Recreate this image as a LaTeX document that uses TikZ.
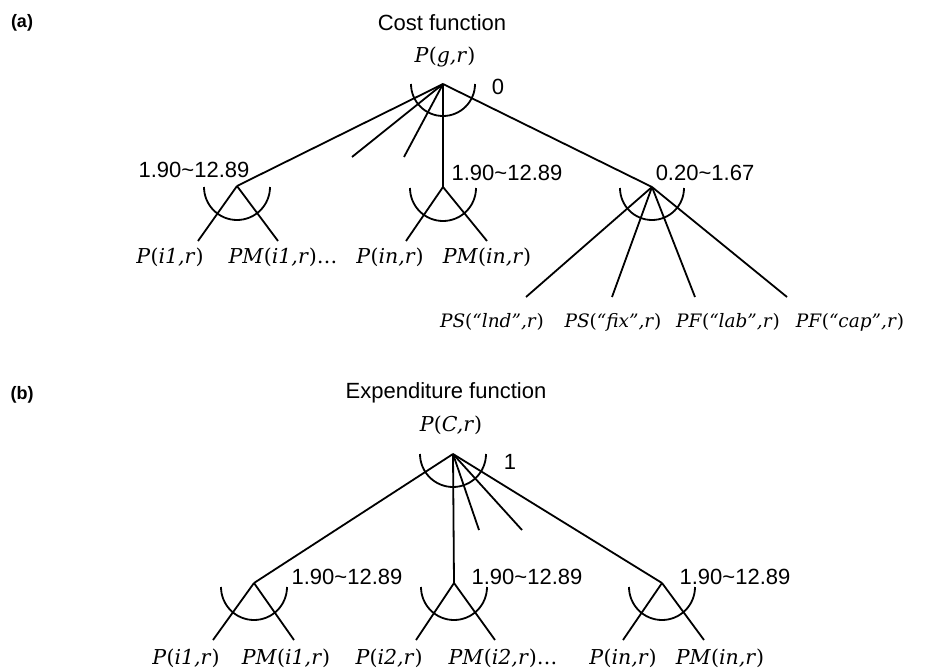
\documentclass[tikz,border=0pt]{standalone}
\usepackage{fontspec}
\setsansfont{Liberation Sans}
\newfontfamily\leaffont{DejaVu Serif}
% price term: italic symbol and arguments, upright parentheses
\newcommand{\pterm}[2]{\textit{#1}(\textit{#2})}
\newcommand{\cupat}[3]{\draw[cup] ([shift={(-#2pt,-#3pt)}]#1) arc[start angle=180,end angle=360,radius=#2pt];}
\tikzset{
  edge/.style={line width=1.8pt},
  cup/.style={line width=1.8pt},
  lbl/.style={font=\fontsize{22}{24}\selectfont\sffamily, inner sep=0pt},
  tag/.style={font=\fontsize{18}{20}\selectfont\sffamily\bfseries, inner sep=0pt},
  leaf/.style={font=\fontsize{20.5}{24}\selectfont\leaffont, inner sep=0pt},
  factor/.style={font=\fontsize{18.5}{22}\selectfont\leaffont, inner sep=0pt},
}
\begin{document}
\begin{tikzpicture}[x=1pt,y=-1pt]
\useasboundingbox (0,0) rectangle (926,669);

% ---------- (a) cost function ----------
\node[tag] (tagA) at (22,23) {(a)};
\node[lbl] (titleA) at (442,23) {Cost function};
\node[leaf] (rootA) at (445,57) {\pterm{P}{g,r}};
\coordinate (a0) at (443,84);
\coordinate (a1) at (237,186);
\coordinate (a2) at (443,187);
\coordinate (a3) at (652,187);
\coordinate (as1) at (352,157);
\coordinate (as2) at (404,157);
\draw[edge] (a0) -- (a1);
\draw[edge] (a0) -- (as1);
\draw[edge] (a0) -- (as2);
\draw[edge] (a0) -- (a2);
\draw[edge] (a0) -- (a3);
\cupat{a0}{32}{0}
\node[lbl] (wA0) at (498,87) {0};
\node[lbl] (wA1) at (194,170) {1.90\textasciitilde 12.89};
\node[lbl] (wA2) at (507,173) {1.90\textasciitilde 12.89};
\node[lbl] (wA3) at (705,173) {0.20\textasciitilde 1.67};

% first input nest
\coordinate (a1l) at (198,241);
\coordinate (a1r) at (278,241);
\draw[edge] (a1) -- (a1l);
\draw[edge] (a1) -- (a1r);
\cupat{a1}{33}{1}
\node[leaf] (pa1) at (170,257) {\pterm{P}{i1,r}};
\node[leaf] (pma1) at (283,257) {\pterm{PM}{i1,r}…};

% n-th input nest
\coordinate (a2l) at (406,241);
\coordinate (a2r) at (487,241);
\draw[edge] (a2) -- (a2l);
\draw[edge] (a2) -- (a2r);
\cupat{a2}{33}{1}
\node[leaf] (pan) at (390,257) {\pterm{P}{in,r}};
\node[leaf] (pman) at (487,257) {\pterm{PM}{in,r}};

% factor nest
\coordinate (a3a) at (526,297);
\coordinate (a3b) at (612,297);
\coordinate (a3c) at (695,297);
\coordinate (a3d) at (787,297);
\draw[edge] (a3) -- (a3a);
\draw[edge] (a3) -- (a3b);
\draw[edge] (a3) -- (a3c);
\draw[edge] (a3) -- (a3d);
\cupat{a3}{32}{1}
\node[factor] (fl) at (492,322) {\pterm{PS}{“lnd”,r}};
\node[factor] (ff) at (613,322) {\pterm{PS}{“fix”,r}};
\node[factor] (fb) at (728,322) {\pterm{PF}{“lab”,r}};
\node[factor] (fc) at (850,322) {\pterm{PF}{“cap”,r}};

% ---------- (b) expenditure function ----------
\node[tag] (tagB) at (22,395) {(b)};
\node[lbl] (titleB) at (446,393) {Expenditure function};
\node[leaf] (rootB) at (451,425) {\pterm{P}{C,r}};
\coordinate (b0) at (453,454);
\coordinate (b1) at (254,583);
\coordinate (b2) at (454,583);
\coordinate (b3) at (662,583);
\coordinate (bs1) at (479,530);
\coordinate (bs2) at (522,530);
\draw[edge] (b0) -- (b1);
\draw[edge] (b0) -- (b2);
\draw[edge] (b0) -- (bs1);
\draw[edge] (b0) -- (bs2);
\draw[edge] (b0) -- (b3);
\cupat{b0}{33}{0}
\node[lbl] (wB0) at (510,462) {1};
\node[lbl] (wB1) at (347,577) {1.90\textasciitilde 12.89};
\node[lbl] (wB2) at (527,577) {1.90\textasciitilde 12.89};
\node[lbl] (wB3) at (735,577) {1.90\textasciitilde 12.89};

\coordinate (b1l) at (213,640);
\coordinate (b1r) at (294,640);
\coordinate (b2l) at (416,640);
\coordinate (b2r) at (495,640);
\coordinate (b3l) at (623,640);
\coordinate (b3r) at (704,640);
\draw[edge] (b1) -- (b1l);
\draw[edge] (b1) -- (b1r);
\draw[edge] (b2) -- (b2l);
\draw[edge] (b2) -- (b2r);
\draw[edge] (b3) -- (b3l);
\draw[edge] (b3) -- (b3r);
\cupat{b1}{33}{4}
\cupat{b2}{33}{4}
\cupat{b3}{33}{4}
\node[leaf] (pb1) at (186,658) {\pterm{P}{i1,r}};
\node[leaf] (pmb1) at (286,658) {\pterm{PM}{i1,r}};
\node[leaf] (pb2) at (389,658) {\pterm{P}{i2,r}};
\node[leaf] (pmb2) at (503,658) {\pterm{PM}{i2,r}…};
\node[leaf] (pbn) at (623,658) {\pterm{P}{in,r}};
\node[leaf] (pmbn) at (720,658) {\pterm{PM}{in,r}};
\end{tikzpicture}
\end{document}
